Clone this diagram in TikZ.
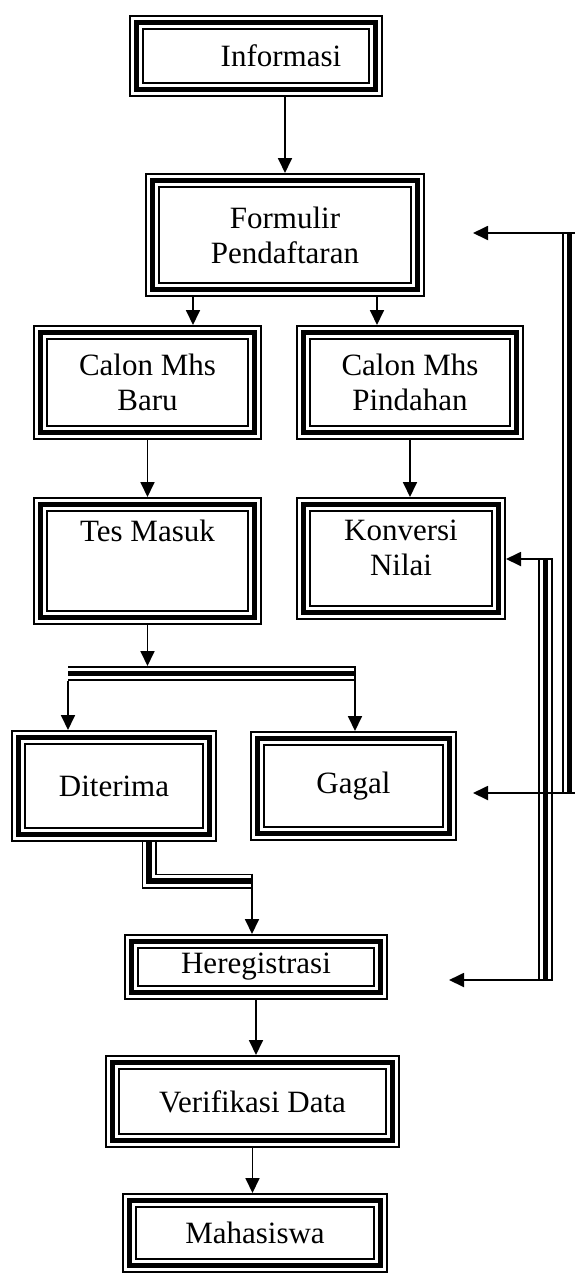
\documentclass[tikz,border=0pt]{standalone}
\usepackage{fontspec}
\setmainfont{Liberation Serif}
\usetikzlibrary{arrows.meta}

\begin{document}
\begin{tikzpicture}[
                x=1pt, y=-1pt,
                font=\fontsize{31}{35}\selectfont,
                line width=1.8pt,
                >={Triangle[length=15pt,width=14pt]},
                % Kotak dengan garis tiga (tipis-tebal-tipis)
                kotak/.style={
                    draw,
                    line width=15pt,
                    postaction={draw=white, line width=11.6pt},
                    postaction={draw=black, line width=5.3pt},
                    align=center,
                    inner sep=0pt
                },
                % Garis penghubung tiga lapis
                garis3/.style={
                    draw,
                    line width=15pt,
                    postaction={draw=white, line width=11.6pt},
                    postaction={draw=black, line width=5.3pt}
                }
            ]

                \useasboundingbox (0,0) rectangle (575,1275);

                % --- Kotak-kotak ---
                \node[kotak, minimum width=239pt, minimum height=67pt] (info) at (256,56) {\hspace*{50pt}Informasi};
                \node[kotak, minimum width=265pt, minimum height=109pt] (form) at (285,235) {Formulir\\Pendaftaran};
                \node[kotak, minimum width=214pt, minimum height=100pt] (baru) at (147.5,382.5) {Calon Mhs\\Baru};
                \node[kotak, minimum width=213pt, minimum height=100pt] (pindah) at (410,382.5) {Calon Mhs\\Pindahan};
                \node[kotak, minimum width=214pt, minimum height=113pt, text depth=61pt] (tes) at (147.5,561) {Tes Masuk};
                \node[kotak, minimum width=195pt, minimum height=108pt, text depth=21pt] (konv) at (401,558.5) {Konversi\\Nilai};
                \node[kotak, minimum width=191pt, minimum height=97pt] (terima) at (114,786) {Diterima};
                \node[kotak, minimum width=192pt, minimum height=95pt] (gagal) at (353.5,786) {Gagal};
                \node[kotak, minimum width=249pt, minimum height=51pt] (hereg) at (256,967) {Heregistrasi};
                \node[kotak, minimum width=280pt, minimum height=78pt] (verif) at (252.5,1101.5) {Verifikasi Data};
                \node[kotak, minimum width=251pt, minimum height=65pt] (maha) at (255,1233) {Mahasiswa};

                % --- Titik bantu ---
                \coordinate (cabangL) at (68,673.5);
                \coordinate (cabangR) at (355,673.5);
                \coordinate (belok) at (149,881);
                \coordinate (masuk) at (252,881);
                \coordinate (kananAtas) at (569.5,233);
                \coordinate (kananBawah) at (569.5,793);
                \coordinate (konvAtas) at (545.5,559);
                \coordinate (konvBawah) at (545.5,980);
                \coordinate (ujungA) at (473,233);
                \coordinate (ujungB) at (473,793);
                \coordinate (ujungC) at (449,980);

                % --- Garis tiga lapis ---
                \draw[garis3] (cabangL) -- (cabangR);
                \draw[garis3] (terima.south -| belok) -- (belok) -- (masuk);
                \draw[garis3] (kananAtas) -- (kananBawah);
                \draw[garis3] (konvAtas) -- (konvBawah);

                % --- Panah ---
                \draw[->] (form.north |- info.south) -- (form.north);
                \draw[->] ([xshift=-92pt]form.south) -- ([xshift=-92pt]form.south |- baru.north);
                \draw[->] ([xshift=92pt]form.south) -- ([xshift=92pt]form.south |- pindah.north);
                \draw[->] (baru.south) -- (baru.south |- tes.north);
                \draw[->] (pindah.south) -- (pindah.south |- konv.north);
                \draw[->] (tes.south) -- ([yshift=7.5pt]tes.south |- cabangL);
                \draw[->] ([yshift=-7.5pt]cabangL) -- (cabangL |- terima.north);
                \draw[->] ([yshift=7.5pt]cabangR) -- (cabangR |- gagal.north);
                \draw[->] ([yshift=7.5pt]masuk) -- (masuk |- hereg.north);
                \draw[->] (hereg.south) -- (hereg.south |- verif.north);
                \draw[->] (verif.south) -- (verif.south |- maha.north);

                % --- Panah balik kanan ---
                \draw[->] ([xshift=5.5pt]kananAtas) -- (ujungA);
                \draw[->] ([xshift=5.5pt]kananBawah) -- (ujungB);
                \draw[->] ([xshift=7.5pt]konvAtas) -- (konv.east |- konvAtas);
                \draw[->] ([xshift=7.5pt]konvBawah) -- (ujungC);

            \end{tikzpicture}
\end{document}
